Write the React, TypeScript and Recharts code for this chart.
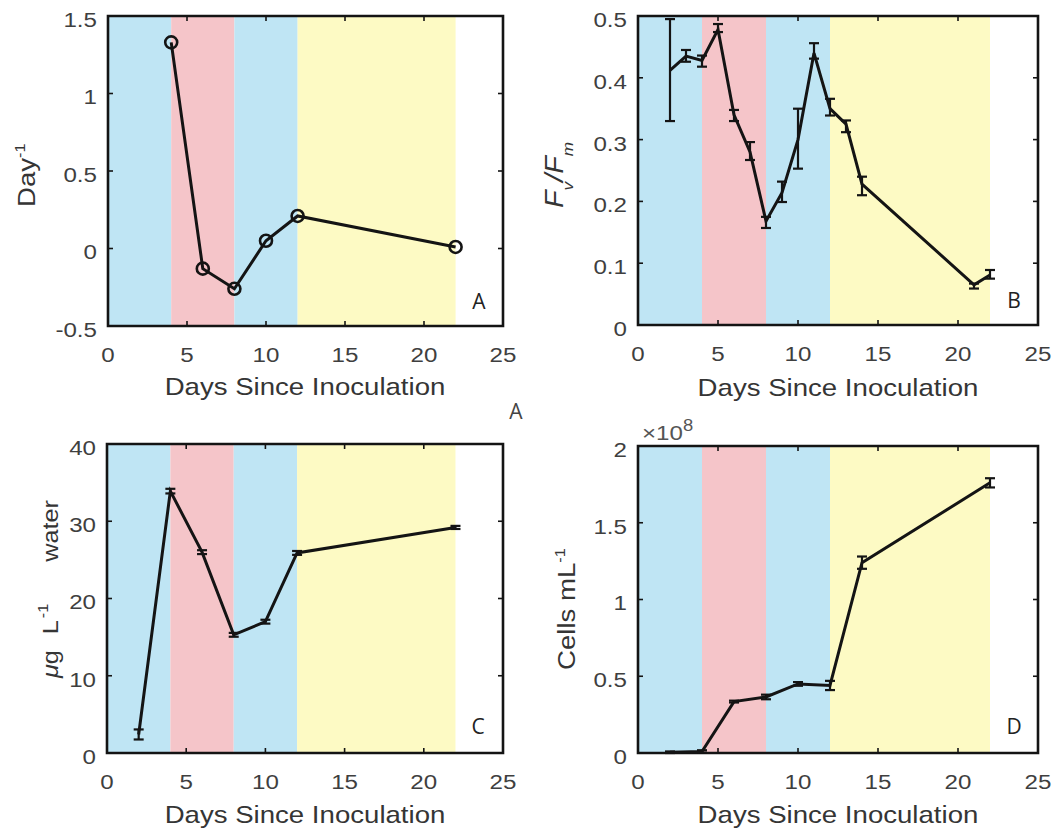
import React from "react";
import { LineChart, Line, XAxis, YAxis, ReferenceArea, ErrorBar } from "recharts";

const FONT = "'Liberation Sans', Arial, Helvetica, sans-serif";
const INK = "#141414";

const xTicks = [0, 5, 10, 15, 20, 25];

// culture phases (shaded backgrounds)
const phaseStart = [0, 4, 8, 12];
const phaseEnd = [4, 8, 12, 22];
const phaseColor = ["#bfe5f4", "#f5c5c9", "#bfe5f4", "#fdfac4"];

// A - growth rate (day^-1)
const growthDays = [4, 6, 8, 10, 12, 22];
const growthRate = [1.33, -0.13, -0.26, 0.05, 0.21, 0.01];
const growthTicks = [-0.5, 0, 0.5, 1, 1.5];

// B - Fv/Fm
const fvDays = [2, 3, 4, 5, 6, 7, 8, 9, 10, 11, 12, 13, 14, 21, 22];
const fvValues = [0.412, 0.435, 0.428, 0.478, 0.34, 0.28, 0.168, 0.214, 0.3, 0.44, 0.35, 0.325, 0.228, 0.065, 0.081];
const fvErrLow = [0.082, 0.009, 0.01, 0.004, 0.01, 0.013, 0.011, 0.015, 0.047, 0.009, 0.011, 0.013, 0.018, 0.006, 0.006];
const fvErrHigh = [0.083, 0.01, 0.008, 0.009, 0.008, 0.016, 0.007, 0.018, 0.05, 0.016, 0.016, 0.006, 0.012, 0.002, 0.008];
const fvTicks = [0, 0.1, 0.2, 0.3, 0.4, 0.5];

// C - chlorophyll (ug L^-1 water)
const chlDays = [2, 4, 6, 8, 10, 12, 22];
const chlValues = [2.4, 33.9, 26.0, 15.3, 17.0, 25.9, 29.2];
const chlErr = [0.65, 0.3, 0.25, 0.25, 0.25, 0.25, 0.2];
const chlTicks = [0, 10, 20, 30, 40];

// D - cells mL^-1 (x 10^8)
const cellDays = [2, 4, 6, 8, 10, 12, 14, 22];
const cellValues = [0.005, 0.01, 0.335, 0.365, 0.45, 0.44, 1.24, 1.76];
const cellErr = [0.005, 0.008, 0.006, 0.015, 0.012, 0.03, 0.04, 0.03];
const cellTicks = [0, 0.5, 1, 1.5, 2];

type Rect = { l: number; r: number; t: number; b: number };

type PanelProps = {
  left: number;
  top: number;
  width: number;
  height: number;
  plot: Rect;
  data: any[];
  yDomain: [number, number];
  yTicks: number[];
  circles?: boolean;
  errors?: boolean;
};

const stretch = (x: number) => `translate(${x} 0) scale(1.15 1) translate(${-x} 0)`;

function Panel({ left, top, width, height, plot, data, yDomain, yTicks, circles, errors }: PanelProps) {
  const lt = plot.t - top;
  const lb = plot.b - top;
  const ll = plot.l - left;
  const lr = plot.r - left;

  const xTick = (props: any) => {
    const { x, payload } = props;
    return (
      <g>
        <line x1={x} x2={x} y1={lb} y2={lb - 5} stroke={INK} strokeWidth={1.6} />
        <line x1={x} x2={x} y1={lt} y2={lt + 5} stroke={INK} strokeWidth={1.6} />
        <text x={x} y={lb + 36} textAnchor="middle" fontSize={21} fontFamily={FONT} fill="#3f3f3f" transform={stretch(x)}>
          {payload.value}
        </text>
      </g>
    );
  };

  const yTick = (props: any) => {
    const { y, payload } = props;
    const tx = ll - 11;
    return (
      <g>
        <line x1={ll} x2={ll + 5} y1={y} y2={y} stroke={INK} strokeWidth={1.6} />
        <line x1={lr} x2={lr - 5} y1={y} y2={y} stroke={INK} strokeWidth={1.6} />
        <text x={tx} y={y + 11} textAnchor="end" fontSize={21} fontFamily={FONT} fill="#3f3f3f" transform={stretch(tx)}>
          {String(payload.value)}
        </text>
      </g>
    );
  };

  return (
    <div style={{ position: "absolute", left, top, width, height }}>
      <LineChart
        width={width}
        height={height}
        data={data}
        margin={{ top: lt, right: width - lr, left: 0, bottom: 0 }}
      >
        {phaseStart.map((s, i) => (
          <ReferenceArea key={i} x1={s} x2={phaseEnd[i]} y1={yDomain[0]} y2={yDomain[1]} fill={phaseColor[i]} fillOpacity={1} stroke="none" />
        ))}
        <XAxis
          type="number"
          dataKey="day"
          domain={[0, 25]}
          ticks={xTicks}
          interval={0}
          height={height - lb}
          axisLine={false}
          tickLine={false}
          tick={xTick}
        />
        <YAxis
          type="number"
          domain={yDomain}
          ticks={yTicks}
          interval={0}
          width={ll}
          axisLine={false}
          tickLine={false}
          tick={yTick}
        />
        <Line
          type="linear"
          dataKey="value"
          stroke={INK}
          strokeWidth={3}
          dot={circles ? { r: 6, fill: "none", stroke: INK, strokeWidth: 2.6 } : false}
          isAnimationActive={false}
        >
          {errors && (
            <ErrorBar dataKey="err" direction="y" width={5} stroke={INK} strokeWidth={2.2} isAnimationActive={false} />
          )}
        </Line>
        <ReferenceArea x1={0} x2={25} y1={yDomain[0]} y2={yDomain[1]} fill="none" stroke={INK} strokeWidth={2.6} />
      </LineChart>
    </div>
  );
}

const growthData = growthDays.map((d, i) => ({ day: d, value: growthRate[i] }));
const fvData = fvDays.map((d, i) => ({ day: d, value: fvValues[i], err: [fvErrLow[i], fvErrHigh[i]] }));
const chlData = chlDays.map((d, i) => ({ day: d, value: chlValues[i], err: chlErr[i] }));
const cellData = cellDays.map((d, i) => ({ day: d, value: cellValues[i], err: cellErr[i] }));

const xTitle = "Days Since Inoculation";

export default function App() {
  const titleProps = { fontSize: 24, fontFamily: FONT, fill: "#353535", textAnchor: "middle" as const };
  const letterProps = { fontSize: 21, fontFamily: "'Open Sans', 'Liberation Sans', sans-serif", fill: "#222", textAnchor: "middle" as const };
  const ylab = { fontFamily: FONT, fill: "#353535" };
  return (
    <div style={{ position: "absolute", left: 0, top: 0, width: 1058, height: 832, background: "#fff", overflow: "hidden" }}>
      <Panel left={0} top={0} width={530} height={415} plot={{ l: 108, r: 503, t: 16, b: 326 }} data={growthData} yDomain={[-0.5, 1.5]} yTicks={growthTicks} circles />
      <Panel left={530} top={0} width={528} height={415} plot={{ l: 638, r: 1038, t: 16, b: 325 }} data={fvData} yDomain={[0, 0.5]} yTicks={fvTicks} errors />
      <Panel left={0} top={415} width={530} height={417} plot={{ l: 107, r: 503, t: 444, b: 753 }} data={chlData} yDomain={[0, 40]} yTicks={chlTicks} errors />
      <Panel left={530} top={415} width={528} height={417} plot={{ l: 638, r: 1038, t: 446, b: 753 }} data={cellData} yDomain={[0, 2]} yTicks={cellTicks} errors />

      <svg width={1058} height={832} style={{ position: "absolute", left: 0, top: 0, pointerEvents: "none" }}>
        {/* x axis titles */}
        <text x={305} y={395} {...titleProps} transform={stretch(305)}>{xTitle}</text>
        <text x={838} y={396} {...titleProps} transform={stretch(838)}>{xTitle}</text>
        <text x={305} y={823} {...titleProps} transform={stretch(305)}>{xTitle}</text>
        <text x={838} y={823} {...titleProps} transform={stretch(838)}>{xTitle}</text>

        {/* y axis titles */}
        <g transform="translate(35 207) rotate(-90) scale(1.15 1)">
          <text x={0} y={0} fontSize={24} {...ylab}>
            Day<tspan fontSize={14} dy={-10}>-1</tspan>
          </text>
        </g>
        <g transform="translate(563 208) rotate(-90) scale(1.15 1)">
          <text x={0} y={0} fontSize={25} {...ylab} fontStyle="italic">
            F<tspan fontSize={15} dy={10}>v</tspan>
            <tspan dy={-10}>/F</tspan>
            <tspan fontSize={15} dy={10}>m</tspan>
          </text>
        </g>
        <g transform="translate(58 678) rotate(-90) scale(1.15 1)">
          <text x={0} y={0} fontSize={22} {...ylab}>
            <tspan fontStyle="italic">μ</tspan>g
          </text>
          <text x={38} y={0} fontSize={22} {...ylab}>L</text>
          <text x={52} y={-10} fontSize={14} {...ylab}>-1</text>
          <text x={101} y={0} fontSize={22} {...ylab}>water</text>
        </g>
        <g transform="translate(575 670) rotate(-90) scale(1.15 1)">
          <text x={0} y={0} fontSize={24} {...ylab}>
            Cells mL<tspan fontSize={14} dy={-10}>-1</tspan>
          </text>
        </g>

        {/* panel letters */}
        <text x={479} y={309} {...letterProps}>A</text>
        <text x={1014} y={308} {...letterProps}>B</text>
        <text x={478} y={734} {...letterProps}>C</text>
        <text x={1014} y={734} {...letterProps}>D</text>
        <text x={516} y={419} {...letterProps} fill="#444">A</text>

        {/* exponent for panel D */}
        <text x={642} y={440} fontSize={21} fontFamily={FONT} fill="#555" transform={stretch(642)}>
          ×10<tspan fontSize={16} dy={-9}>8</tspan>
        </text>
      </svg>
    </div>
  );
}
